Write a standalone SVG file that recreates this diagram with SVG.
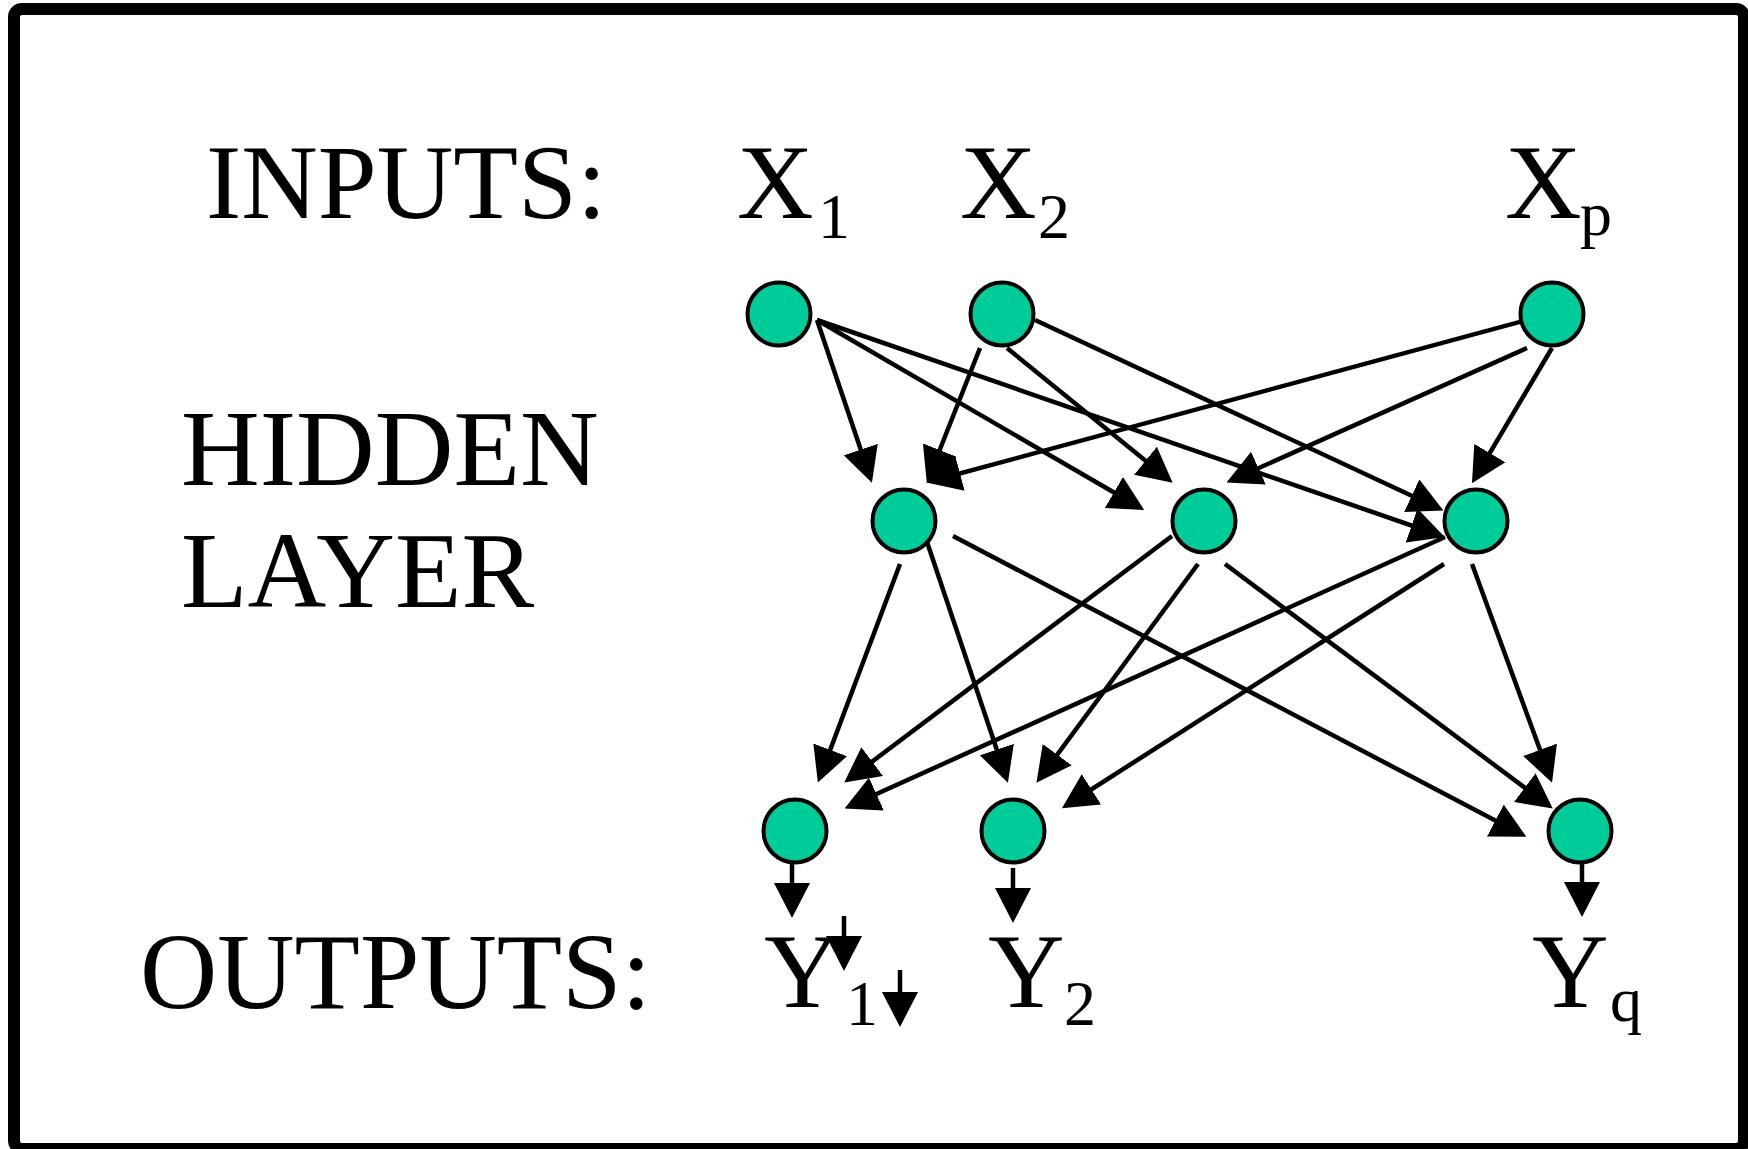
<svg xmlns="http://www.w3.org/2000/svg" width="1748" height="1149" viewBox="0 0 1748 1149">
<style>
.lbl{font-family:"Liberation Serif","Times New Roman",serif;font-size:106px;fill:#000}
.var{font-family:"Liberation Serif","Times New Roman",serif;font-size:106px;fill:#000}
.sub{font-family:"Liberation Serif","Times New Roman",serif;font-size:64px;fill:#000}
.node{fill:#00CC99;stroke:#000;stroke-width:4}
.edge{stroke:#000;stroke-width:4.5;fill:none;marker-end:url(#ah)}
</style>
<defs>
<marker id="ah" markerUnits="userSpaceOnUse" markerWidth="35" markerHeight="36" viewBox="0 0 35 36" refX="29" refY="18" orient="auto">
<path d="M0,0 L35,18 L0,36 z" fill="#000"/>
</marker>
</defs>
<rect x="14" y="9" width="1730" height="1140" rx="8" fill="#fff" stroke="#000" stroke-width="12"/>
<g id="labels">
<text class="lbl" x="206" y="218">INPUTS:</text>
<text class="lbl" x="181" y="485" style="font-size:109px">HIDDEN</text>
<text class="lbl" x="181" y="607" style="font-size:109px">LAYER</text>
<text class="lbl" x="140" y="1008" style="font-size:107px">OUTPUTS:</text>
</g>
<g id="input-labels">
<text class="var" x="737" y="218">X</text><text class="sub" x="818" y="238">1</text>
<text class="var" x="960" y="218">X</text><text class="sub" x="1038" y="238">2</text>
<text class="var" x="1505" y="218">X</text><text class="sub" x="1580" y="235">p</text>
</g>
<g id="output-labels">
<text class="var" x="764" y="1007">Y</text><text class="sub" x="846" y="1025">1</text>
<text class="var" x="988" y="1007">Y</text><text class="sub" x="1064" y="1025">2</text>
<text class="var" x="1532" y="1007">Y</text><text class="sub" x="1610" y="1021">q</text>
</g>
<g id="connectors">
<line class="edge" x1="817" y1="320" x2="870" y2="477"/>
<line class="edge" x1="817" y1="320" x2="1139" y2="507"/>
<line class="edge" x1="817" y1="320" x2="1439" y2="535"/>
<line class="edge" x1="980" y1="348" x2="929" y2="477"/>
<line class="edge" x1="1007" y1="348" x2="1168" y2="479"/>
<line class="edge" x1="1035" y1="320" x2="1438" y2="508"/>
<line class="edge" x1="1527" y1="320" x2="932" y2="481"/>
<line class="edge" x1="1527" y1="348" x2="1232" y2="480"/>
<line class="edge" x1="1552" y1="348" x2="1475" y2="478"/>
<line class="edge" x1="900" y1="564" x2="820" y2="777"/>
<line class="edge" x1="925" y1="536" x2="1006" y2="777"/>
<line class="edge" x1="953" y1="536" x2="1521" y2="834"/>
<line class="edge" x1="1172" y1="536" x2="849" y2="779"/>
<line class="edge" x1="1198" y1="564" x2="1040" y2="778"/>
<line class="edge" x1="1225" y1="564" x2="1548" y2="805"/>
<line class="edge" x1="1445" y1="537" x2="850" y2="806"/>
<line class="edge" x1="1444" y1="564" x2="1067" y2="805"/>
<line class="edge" x1="1472" y1="564" x2="1550" y2="777"/>
<line class="edge" x1="792" y1="863" x2="792" y2="912"/>
<line class="edge" x1="844" y1="916" x2="844" y2="965"/>
<line class="edge" x1="900" y1="970" x2="900" y2="1021"/>
<line class="edge" x1="1013" y1="868" x2="1013" y2="917"/>
<line class="edge" x1="1582" y1="863" x2="1582" y2="911"/>
</g>
<g id="in1"><circle class="node" cx="779" cy="314" r="31.5"/></g>
<g id="in2"><circle class="node" cx="1002" cy="314" r="31.5"/></g>
<g id="inp"><circle class="node" cx="1552" cy="314" r="31.5"/></g>
<g id="h1"><circle class="node" cx="904" cy="521" r="31.5"/></g>
<g id="h2"><circle class="node" cx="1204" cy="521" r="31.5"/></g>
<g id="h3"><circle class="node" cx="1476" cy="521" r="31.5"/></g>
<g id="out1"><circle class="node" cx="795" cy="831" r="31.5"/></g>
<g id="out2"><circle class="node" cx="1013" cy="831" r="31.5"/></g>
<g id="outq"><circle class="node" cx="1580" cy="831" r="31.5"/></g>
</svg>
